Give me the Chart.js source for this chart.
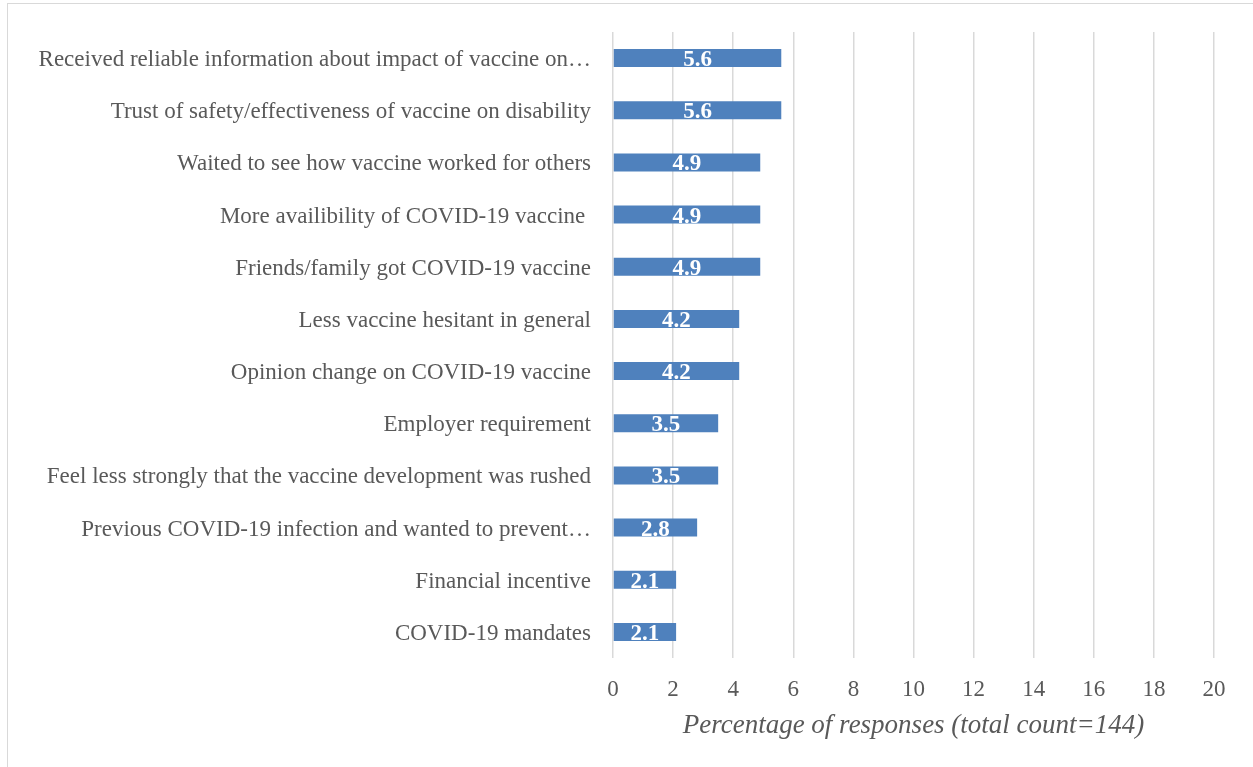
<!DOCTYPE html>
<html>
<head>
<meta charset="utf-8">
<script src="https://cdn.jsdelivr.net/npm/chart.js@4.4.1/dist/chart.umd.min.js"></script>
<style>
  html, body { margin: 0; padding: 0; background: #fff; }
  #wrap { position: relative; width: 1253px; height: 767px; overflow: hidden; }
  #frame { position: absolute; left: 7px; top: 3px; width: 1260px; height: 780px; border: 1px solid #d9d9d9; box-sizing: border-box; }
  canvas { position: absolute; left: 0; top: 0; }
</style>
</head>
<body>
<div id="wrap">
  <div id="frame"></div>
  <canvas id="reasonChart" width="1253" height="767"></canvas>
</div>
<script>
// ============================================================
// Reasons for getting COVID-19 vaccine — horizontal bars
// ============================================================

const reasonLabels = [
  "Received reliable information about impact of vaccine on\u2026",
  "Trust of safety/effectiveness of vaccine on disability",
  "Waited to see how vaccine worked for others",
  "More availibility of COVID-19 vaccine ",
  "Friends/family got COVID-19 vaccine",
  "Less vaccine hesitant in general",
  "Opinion change on COVID-19 vaccine",
  "Employer requirement",
  "Feel less strongly that the vaccine development was rushed",
  "Previous COVID-19 infection and wanted to prevent\u2026",
  "Financial incentive",
  "COVID-19 mandates"
];

const reasonPercents = [5.6, 5.6, 4.9, 4.9, 4.9, 4.2, 4.2, 3.5, 3.5, 2.8, 2.1, 2.1];

const xTickMin = 0;
const xTickMax = 20;
const xTickStep = 2;

const axisTitle = "Percentage of responses (total count=144)";

const SERIF = "'Liberation Serif', 'Times New Roman', serif";
const TEXT_GREY = "#595959";

// draws the value in the middle of each bar
const barValueLabels = {
  id: "barValueLabels",
  afterDatasetsDraw(chart) {
    const ctx = chart.ctx;
    const meta = chart.getDatasetMeta(0);
    ctx.save();
    ctx.font = "bold 23px " + SERIF;
    ctx.fillStyle = "#ffffff";
    ctx.textAlign = "center";
    ctx.textBaseline = "middle";
    meta.data.forEach((bar, i) => {
      const mid = (bar.x + bar.base) / 2;
      ctx.fillText(reasonPercents[i].toFixed(1), mid, bar.y + 2);
    });
    ctx.restore();
  }
};

new Chart(document.getElementById("reasonChart"), {
  type: "bar",
  data: {
    labels: reasonLabels,
    datasets: [
      {
        data: reasonPercents,
        backgroundColor: "#4f81bd",
        borderWidth: 0,
        barPercentage: 0.345,
        categoryPercentage: 1
      }
    ]
  },
  options: {
    indexAxis: "y",
    responsive: false,
    animation: false,
    layout: {
      padding: { top: 32, right: 39, left: 0, bottom: 0 }
    },
    plugins: {
      legend: { display: false },
      tooltip: { enabled: false }
    },
    scales: {
      x: {
        min: xTickMin,
        max: xTickMax,
        ticks: {
          stepSize: xTickStep,
          color: TEXT_GREY,
          font: { family: SERIF, size: 23 },
          padding: 18
        },
        grid: {
          color: "#d9d9d9",
          lineWidth: 1.5,
          drawTicks: false
        },
        border: { display: false },
        title: {
          display: true,
          text: axisTitle,
          color: TEXT_GREY,
          font: { family: SERIF, size: 27, style: "italic" },
          padding: { top: 0, bottom: 25 }
        },
        afterFit(scale) {
          scale.height = 109;
        }
      },
      y: {
        ticks: {
          color: TEXT_GREY,
          font: { family: SERIF, size: 23 },
          padding: 14,
          labelOffset: 2
        },
        grid: { display: false },
        border: { display: false },
        afterFit(scale) {
          scale.width = 613;
        }
      }
    }
  },
  plugins: [barValueLabels]
});
</script>
</body>
</html>
